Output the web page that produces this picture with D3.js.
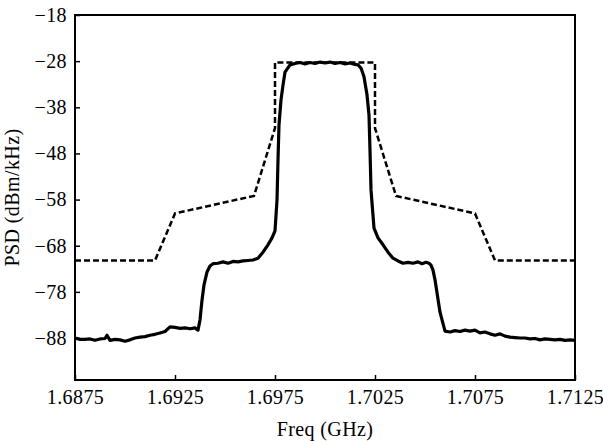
<!doctype html>
<html lang="en">
  <head>
    <meta charset="utf-8">
    <title>PSD</title>
    <style>
      body { margin: 0; background: #fff; }
      svg text { font-family: "Liberation Serif", "Times New Roman", serif; font-size: 20px; letter-spacing: 0.4px; fill: #000; }
    </style>
  </head>
  <body>
    <script src="https://d3js.org/d3.v7.min.js"></script>
    <script>
      // tick labels
      var xTicks = [1.6875, 1.6925, 1.6975, 1.7025, 1.7075, 1.7125];
      var yTicks = [-18, -28, -38, -48, -58, -68, -78, -88];

      // spectral mask (dashed)
      var maskFreq = [1.6875, 1.6915, 1.6925, 1.69645, 1.6975, 1.6975, 1.7025, 1.7025, 1.70355, 1.7075, 1.7085, 1.7125];
      var maskPsd  = [-71.2, -71.2, -61.0, -57.2, -42.5, -28.3, -28.3, -42.5, -57.2, -61.0, -71.2, -71.2];

      // measured spectrum (solid)
      var measFreq = [
        1.6875, 1.68775, 1.688, 1.68825, 1.6885, 1.68875, 1.689, 1.6891, 1.68925, 1.6895,
        1.68975, 1.69, 1.69025, 1.6905, 1.69075, 1.691, 1.69125, 1.6915, 1.69175, 1.692,
        1.69225, 1.6925, 1.69275, 1.693, 1.69325, 1.6935, 1.69365, 1.69375, 1.69385, 1.69395,
        1.6941, 1.69425, 1.6944, 1.69465, 1.6949, 1.69515, 1.6954, 1.69565, 1.6959, 1.69615,
        1.6964, 1.69665, 1.6969, 1.69715, 1.69735, 1.6975, 1.6976, 1.69765, 1.6977, 1.6978,
        1.6979, 1.698, 1.69825, 1.6985, 1.69875, 1.699, 1.69925, 1.6995, 1.69975, 1.7,
        1.70025, 1.7005, 1.70075, 1.701, 1.70125, 1.7015, 1.70165, 1.7018, 1.70195, 1.7021,
        1.7022, 1.70225, 1.7023, 1.70245, 1.70265, 1.7029, 1.70315, 1.7034, 1.70365, 1.7039,
        1.70415, 1.7044, 1.70465, 1.70485, 1.70505, 1.7052, 1.7053, 1.7054, 1.7055, 1.70575,
        1.706, 1.70625, 1.7065, 1.70675, 1.707, 1.70725, 1.7075, 1.70775, 1.708, 1.70825,
        1.7085, 1.70875, 1.709, 1.70925, 1.7095, 1.70975, 1.71, 1.71025, 1.7105, 1.71075,
        1.711, 1.71125, 1.7115, 1.71175, 1.712, 1.71225, 1.7125
      ];
      var measPsd = [
        -88.0, -88.3, -88.3, -88.2, -88.5, -88.2, -88.1, -87.4, -88.5, -88.3,
        -88.4, -88.7, -88.4, -88.0, -87.8, -87.7, -87.4, -87.2, -86.9, -86.6,
        -85.6, -85.7, -85.9, -85.8, -86.0, -85.8, -86.3, -84.1, -79.8, -76.5,
        -73.7, -72.4, -71.9, -71.8, -71.5, -71.8, -71.4, -71.5, -71.3, -71.2,
        -71.1, -70.7, -69.4, -67.8, -66.3, -64.8, -58.1, -49.4, -41.8, -36.4,
        -33.2, -30.4, -28.8, -28.5, -28.3, -28.6, -28.3, -28.5, -28.2, -28.4,
        -28.2, -28.5, -28.3, -28.6, -28.4, -28.7, -28.8, -29.5, -31.4, -35.3,
        -39.7, -47.3, -55.9, -64.2, -66.3, -67.8, -69.4, -70.7, -71.3, -71.8,
        -71.6, -71.8, -71.5, -71.9, -71.6, -71.8, -72.2, -73.3, -75.4, -82.4,
        -86.5, -86.7, -86.4, -86.6, -86.3, -86.5, -86.3, -86.9, -86.7, -87.1,
        -87.4, -87.1, -87.6, -87.8, -87.9, -88.0, -88.0, -88.2, -88.1, -88.4,
        -88.2, -88.3, -88.4, -88.3, -88.5, -88.4, -88.5
      ];

      var margin = { top: 15, right: 28, bottom: 61, left: 75 };
      var width = 603 - margin.left - margin.right;
      var height = 441 - margin.top - margin.bottom;

      var x = d3.scaleLinear().domain([1.6875, 1.7125]).range([0, width]);
      var y = d3.scaleLinear().domain([-97.1, -18]).range([height, 0]);

      var svg = d3.select('body').append('svg')
          .attr('width', 603)
          .attr('height', 441)
        .append('g')
          .attr('transform', 'translate(' + margin.left + ',' + margin.top + ')');

      var line = d3.line()
          .x(function(d) { return x(d[0]); })
          .y(function(d) { return y(d[1]); });

      var mask = maskFreq.map(function(f, i) { return [f, maskPsd[i]]; });
      var meas = measFreq.map(function(f, i) { return [f, measPsd[i]]; });

      svg.append('path')
          .datum(meas)
          .attr('fill', 'none')
          .attr('stroke', '#000')
          .attr('stroke-width', 3.2)
          .attr('stroke-linejoin', 'round')
          .attr('d', line);

      svg.append('path')
          .datum(mask)
          .attr('fill', 'none')
          .attr('stroke', '#000')
          .attr('stroke-width', 2.5)
          .attr('stroke-dasharray', '6,3')
          .attr('d', line);

      var xAxis = svg.append('g')
          .attr('transform', 'translate(0,' + height + ')')
          .call(d3.axisBottom(x).tickValues(xTicks).tickFormat(d3.format('.4f'))
            .tickSizeInner(-5).tickSizeOuter(0).tickPadding(10));

      var yAxis = svg.append('g')
          .call(d3.axisLeft(y).tickValues(yTicks).tickFormat(d3.format('d'))
            .tickSizeInner(-5).tickSizeOuter(0).tickPadding(8));

      [xAxis, yAxis].forEach(function(a) {
        a.select('.domain').remove();
        a.selectAll('line').attr('stroke-width', 1.5);
      });

      // frame
      svg.append('rect')
          .attr('width', width)
          .attr('height', height)
          .attr('fill', 'none')
          .attr('stroke', '#000')
          .attr('stroke-width', 2);

      svg.append('text')
          .attr('x', width / 2)
          .attr('y', height + 56)
          .attr('text-anchor', 'middle')
          .text('Freq (GHz)');

      svg.append('text')
          .attr('transform', 'rotate(-90)')
          .attr('x', -height / 2)
          .attr('y', -margin.left + 19)
          .attr('text-anchor', 'middle')
          .text('PSD (dBm/kHz)');
    </script>
  </body>
</html>
